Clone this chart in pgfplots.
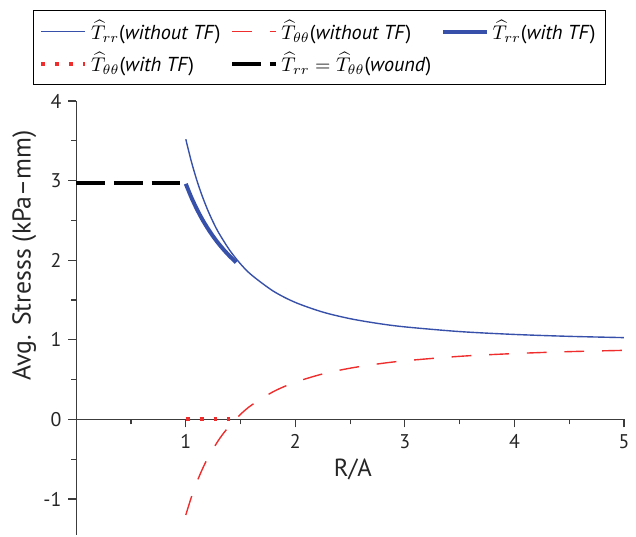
\documentclass[border=0pt]{standalone}
\usepackage{fontspec}
\setmainfont{PT Sans}
\usepackage{pgfplots}
\pgfplotsset{compat=1.18}
\definecolor{tblue}{RGB}{55,80,170}
\definecolor{tred}{RGB}{240,45,45}
\definecolor{axgray}{RGB}{60,60,60}
\begin{document}
\begin{tikzpicture}
\begin{axis}[
  scale only axis, width=276.5pt, height=219pt,
  axis lines=middle,
  xmin=0, xmax=5, ymin=-1.45, ymax=4,
  axis line style={axgray, line width=0.65pt, -},
  xtick={1,2,3,4,5}, ytick={-1,0,1,2,3,4},
  minor xtick={0.5,1.5,2.5,3.5,4.5},
  minor ytick={-0.5,0.5,1.5,2.5,3.5},
  hide obscured x ticks=false, hide obscured y ticks=false,
  tick align=outside,
  major tick length=4pt, minor tick length=2.5pt,
  every tick/.style={axgray, line width=0.6pt},
  /pgf/number format/assume math mode=true,
  tick label style={font=\fontsize{10}{12}\selectfont, text=black!85},
  xlabel={R/A}, ylabel={Avg. Stresss (kPa–mm)},
  xlabel style={at={(axis description cs:0.505,0.151)}, anchor=center, font=\fontsize{12.5}{14}\selectfont, text=black!85},
  ylabel style={at={(axis description cs:-0.095,0.644)}, anchor=center, rotate=90, font=\fontsize{13}{15}\selectfont, text=black!85},
  legend columns=3,
  legend cell align=left,
  legend image code/.code={\draw[#1] (0pt,0pt) -- (22pt,0pt);},
  legend style={at={(axis description cs:-0.079,1.21)}, anchor=north west,
    draw=black, line width=0.6pt, fill=white,
    font=\fontsize{10.2}{12}\selectfont,
    /tikz/every even column/.append style={column sep=3pt},
    row sep=1pt, inner xsep=3pt, inner ysep=3pt},
  extra description/.code={\path (-0.1392,1.2329) (1.0108,-0.0046);},
]
\addplot[color=tblue, draw=tblue, line width=0.7pt, smooth] coordinates {
(1,3.52) (1.05,3.244) (1.1,3.008) (1.15,2.806) (1.2,2.631) (1.25,2.479) (1.3,2.346)
(1.4,2.127) (1.5,1.953) (1.6,1.815) (1.8,1.611) (2,1.470) (2.25,1.349) (2.5,1.266)
(2.75,1.207) (3,1.163) (3.5,1.104) (4,1.068) (4.5,1.044) (5,1.028)};
\addlegendentry{$\widehat{T}_{rr}$(\textit{without TF})}
\addplot[color=tred, draw=tred, line width=0.7pt, dash pattern=on 10pt off 9pt, smooth] coordinates {
(1,-1.200) (1.05,-0.980) (1.1,-0.790) (1.15,-0.628) (1.2,-0.488) (1.3,-0.258) (1.4,-0.078)
(1.5,0.065) (1.6,0.180) (1.8,0.350) (2,0.468) (2.25,0.572) (2.5,0.644) (2.75,0.697)
(3,0.737) (3.5,0.793) (4,0.828) (4.5,0.852) (5,0.868)};
\addlegendentry{$\widehat{T}_{\theta\theta}$(\textit{without TF})}
\addplot[color=tblue, draw=tblue, line width=2pt, smooth] coordinates {
(1,2.96) (1.05,2.792) (1.1,2.645) (1.15,2.515) (1.2,2.401) (1.25,2.299) (1.3,2.208)
(1.35,2.126) (1.4,2.052) (1.46,1.973)};
\addlegendentry{$\widehat{T}_{rr}$(\textit{with TF})}
\addplot[color=tred, draw=tred, line width=2pt, dash pattern=on 2pt off 5pt] coordinates {
(1,0) (1.4,0)};
\addlegendentry{$\widehat{T}_{\theta\theta}$(\textit{with TF})}
\addplot[color=black, draw=black, line width=1.8pt, dash pattern=on 14.5pt off 4.5pt] coordinates {
(0,2.97) (1,2.97)};
\addlegendentry{$\widehat{T}_{rr}=\widehat{T}_{\theta\theta}$(\textit{wound})}
\end{axis}
\end{tikzpicture}
\end{document}
